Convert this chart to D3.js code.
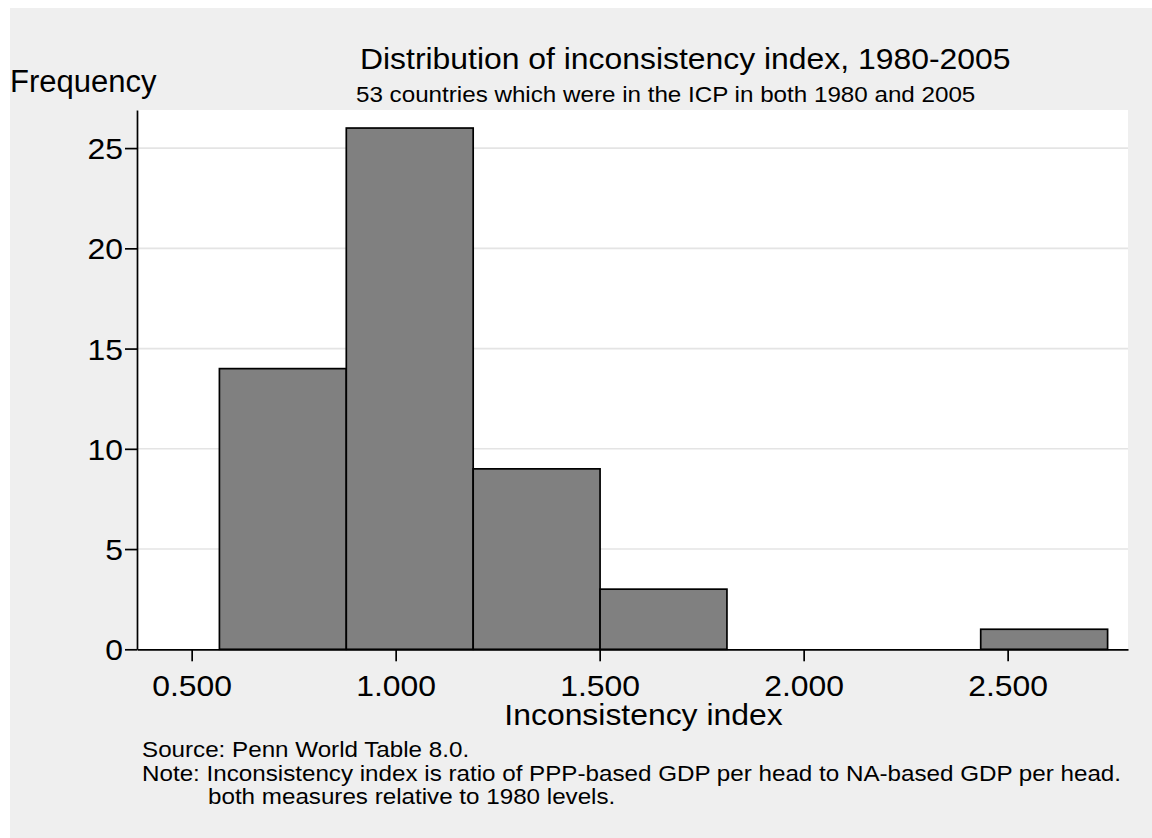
<!DOCTYPE html>
<html>
<head>
<meta charset="utf-8">
<script src="https://cdn.jsdelivr.net/npm/d3@7"></script>
<style>
  body { margin: 0; background: #ffffff; }
  text { font-family: "Liberation Sans", Arial, sans-serif; fill: #000; }
</style>
</head>
<body>
<div id="chart"></div>
<script>
//
// Histogram of the inconsistency index (Stata style).
//

// bin edges, one count per bin
var binEdges = [0.568, 0.879, 1.190, 1.501, 1.812, 2.123, 2.434, 2.745];
var binCounts = [14, 26, 9, 3, 0, 0, 1];

var xTicks = [0.5, 1.0, 1.5, 2.0, 2.5];
var yTicks = [0, 5, 10, 15, 20, 25];

var titleText = "Distribution of inconsistency index, 1980-2005";
var subtitleText = "53 countries which were in the ICP in both 1980 and 2005";
var yTitleText = "Frequency";
var xTitleText = "Inconsistency index";
var noteLines = [
  "Source: Penn World Table 8.0.",
  "Note: Inconsistency index is ratio of PPP-based GDP per head to NA-based GDP per head.",
  "both measures relative to 1980 levels."
];

const width = 1152, height = 838;
const plot = { left: 137, right: 1128, top: 110, bottom: 649.3 };
const stretch = 1.1;   // text in the picture is a bit wider than Arial

const svg = d3.select('#chart').append('svg')
  .attr('width', width)
  .attr('height', height);

// outer gray graph region
svg.append('rect')
  .attr('x', 10).attr('y', 8)
  .attr('width', width - 10).attr('height', height - 8)
  .style('fill', '#efefef');

// white plot region
svg.append('rect')
  .attr('x', plot.left).attr('y', plot.top)
  .attr('width', plot.right - plot.left).attr('height', plot.bottom - plot.top)
  .style('fill', '#ffffff');

const x = d3.scaleLinear()
  .domain([0.366, 2.795])
  .range([plot.left, plot.right]);
const y = d3.scaleLinear()
  .domain([0, 26.9])
  .range([plot.bottom, plot.top]);

// gridlines
svg.append('g').selectAll('line')
  .data(yTicks.filter(d => d > 0))
  .join('line')
  .attr('x1', plot.left).attr('x2', plot.right)
  .attr('y1', d => y(d)).attr('y2', d => y(d))
  .style('stroke', '#e4e4e4')
  .style('stroke-width', 1.6);

// bars
svg.append('g').selectAll('rect')
  .data(binCounts.map((c, i) => ({ x0: binEdges[i], x1: binEdges[i + 1], count: c })).filter(d => d.count > 0))
  .join('rect')
  .attr('x', d => x(d.x0))
  .attr('width', d => x(d.x1) - x(d.x0))
  .attr('y', d => y(d.count))
  .attr('height', d => y(0) - y(d.count))
  .style('fill', '#808080')
  .style('stroke', '#000')
  .style('stroke-width', 1.7);

// Y axis
const yAxis = svg.append('g')
  .attr('transform', `translate(${plot.left},0)`)
  .call(d3.axisLeft(y).tickValues(yTicks).tickSize(12).tickSizeOuter(0));
yAxis.select('.domain').style('stroke', '#000').style('stroke-width', 1.7);
yAxis.selectAll('.tick line').style('stroke', '#000').style('stroke-width', 1.7);
yAxis.selectAll('.tick text')
  .attr('x', 0).attr('dy', null).attr('y', 10.5)
  .attr('transform', `translate(-14,0) scale(${stretch},1)`)
  .style('font-size', '29px')
  .style('font-family', '"Liberation Sans", Arial, sans-serif');

// X axis
const xAxis = svg.append('g')
  .attr('transform', `translate(0,${plot.bottom})`)
  .call(d3.axisBottom(x).tickValues(xTicks).tickSize(12).tickSizeOuter(0).tickFormat(d3.format('.3f')));
xAxis.select('.domain').style('stroke', '#000').style('stroke-width', 1.7);
xAxis.selectAll('.tick line').style('stroke', '#000').style('stroke-width', 1.7);
xAxis.selectAll('.tick text')
  .attr('dy', null).attr('y', 46.4)
  .attr('transform', `scale(${stretch},1)`)
  .style('font-size', '29px')
  .style('font-family', '"Liberation Sans", Arial, sans-serif');

// small helper for stretched labels
function label(txt, px, py, size, anchor, sx) {
  svg.append('text')
    .attr('transform', `translate(${px},${py}) scale(${sx || stretch},1)`)
    .attr('text-anchor', anchor || 'start')
    .style('font-size', size + 'px')
    .text(txt);
}

label(titleText, 360, 69.3, 29);
label(subtitleText, 356, 102.3, 22);
label(yTitleText, 10, 91.7, 31, 'start', 1.0);
label(xTitleText, 643.5, 725, 29, 'middle');

label(noteLines[0], 142, 757, 22);
label(noteLines[1], 142, 780.5, 22);
label(noteLines[2], 208, 804, 22);
</script>
</body>
</html>
